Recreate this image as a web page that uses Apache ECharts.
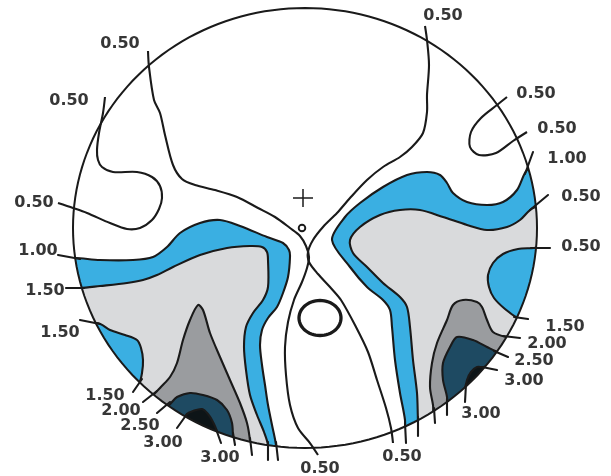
<!DOCTYPE html>
<html><head><meta charset="utf-8">
<script src="https://cdn.jsdelivr.net/npm/echarts/dist/echarts.min.js"></script>
<style>html,body{margin:0;padding:0;background:#fff;}#c{width:611px;height:476px;}</style>
</head><body><div id="c"></div>
<script>
// ---- map units: x to the right, y upward, origin at the head centre ----
// filled level bands (contour polygons)
const blueLeft = [[-265,-30],[-230,-30],[-205,-32],[-172,-32],[-152,-29],[-138,-19],[-125,-5],[-105,5],[-85,8],[-65,2],[-38,-9],[-22,-15],[-16,-22],[-15,-29],[-17,-49],[-22,-65],[-28,-79],[-37,-90],[-43,-102],[-45,-117],[-43,-137],[-40,-157],[-37,-177],[-33,-197],[-29,-217],[-27,-242],[-155,-242],[-265,-172]];
const grayLeft = [[-265,-60],[-225,-60],[-205,-58],[-178,-55],[-162,-52],[-148,-47],[-132,-39],[-105,-27],[-78,-20],[-55,-18],[-43,-19],[-38,-24],[-37,-32],[-37,-59],[-42,-72],[-52,-85],[-59,-99],[-61,-119],[-59,-142],[-55,-167],[-48,-187],[-41,-204],[-37,-217],[-36,-242],[-155,-242],[-265,-172]];
const blueSmallLeft = [[-208,-95],[-195,-102],[-180,-107],[-168,-112],[-164,-120],[-162,-132],[-163,-145],[-166,-155],[-185,-172],[-245,-102]];
const midGrayLeft = [[-155,-172],[-145,-160],[-135,-149],[-128,-135],[-122,-112],[-115,-92],[-107,-77],[-102,-82],[-95,-105],[-85,-129],[-75,-152],[-65,-175],[-58,-195],[-55,-213],[-53,-242],[-165,-212]];
const tealLeft = [[-145,-190],[-133,-174],[-128,-169],[-115,-165],[-102,-167],[-88,-172],[-78,-182],[-73,-195],[-72,-208],[-70,-232],[-135,-212]];
const blackLeft = [[-125,-200],[-118,-186],[-112,-183],[-103,-181],[-97,-186],[-92,-194],[-88,-204],[-85,-227],[-115,-217]];
const blueRight = [[240,68],[222,58],[212,38],[198,26],[182,23],[162,26],[148,35],[142,45],[135,53],[122,56],[102,53],[78,41],[55,25],[40,11],[27,-12],[45,-39],[62,-59],[78,-72],[85,-82],[87,-99],[90,-132],[95,-165],[100,-192],[102,-222],[175,-232],[265,-72]];
const grayRight = [[250,23],[228,20],[215,8],[202,1],[182,-2],[162,3],[138,11],[115,18],[95,18],[75,13],[55,1],[45,-12],[48,-25],[62,-39],[78,-55],[95,-69],[102,-79],[105,-99],[108,-132],[112,-165],[113,-192],[115,-222],[175,-232],[265,-72]];
const blueSmallRight = [[250,-17],[229,-20],[213,-21],[198,-26],[188,-35],[183,-47],[184,-59],[189,-70],[200,-81],[214,-91],[240,-104]];
const midGrayRight = [[220,-112],[201,-109],[188,-104],[182,-92],[177,-79],[172,-74],[158,-72],[148,-77],[142,-92],[132,-115],[127,-135],[125,-159],[128,-177],[131,-202],[185,-202]];
const tealRight = [[210,-127],[193,-124],[182,-119],[168,-112],[152,-109],[145,-119],[138,-135],[138,-152],[142,-169],[144,-197],[195,-172]];
const blackRight = [[190,-134],[179,-139],[172,-139],[166,-144],[162,-152],[160,-164],[163,-187],[200,-162]];
const regionLevel = ['1.00','1.50','1.00','2.00','2.50','3.00','1.00','1.50','1.00','2.00','2.50','3.00'];

// unfilled 0.50 contour lines
const lineA = [[-157,177],[-156,161],[-151,128],[-145,115],[-140,93],[-132,63],[-123,49],[-110,43],[-90,38],[-68,31],[-47,20],[-30,11],[-15,0],[-5,-8],[1,-18],[4,-29],[2,-40],[-3,-54],[-11,-72],[-17,-94],[-20,-119],[-19,-147],[-15,-177],[-7,-200],[5,-215],[13,-227]];
const lineB = [[-200,131],[-202,115],[-206,95],[-208,78],[-207,68],[-203,61],[-192,56],[-168,56],[-153,51],[-145,42],[-143,30],[-146,19],[-153,8],[-165,0],[-178,-1],[-195,5],[-218,15],[-232,20],[-247,25]];
const lineC = [[120,202],[122,188],[124,163],[122,133],[122,116],[118,95],[107,81],[95,71],[78,61],[62,48],[45,30],[32,15],[18,1],[8,-12],[3,-24],[4,-34],[13,-46],[25,-59],[36,-72],[51,-99],[63,-124],[72,-152],[81,-180],[86,-200],[88,-215]];
const lineD = [[202,131],[192,123],[176,110],[166,96],[165,81],[174,73],[191,75],[208,87],[222,96]];

// label leader lines (contour ends continued past the outline)
const leaders = [
 [[-225,-31],[-247,-27]], [[-221,-60],[-239,-60]], [[-205,-96],[-225,-92]],
 [[-163,-151],[-172,-164]], [[-148,-163],[-162,-174]], [[-135,-174],[-148,-185]],
 [[-118,-186],[-128,-200]], [[-89,-201],[-84,-215]], [[-72,-205],[-70,-217]],
 [[-55,-210],[-53,-227]], [[-37,-214],[-37,-232]], [[-29,-214],[-27,-232]],
 [[100,-195],[101,-215]], [[113,-189],[113,-208]], [[129,-180],[130,-195]],
 [[142,-171],[142,-187]], [[161,-156],[160,-174]], [[177,-139],[192,-142]],
 [[189,-123],[203,-129]], [[198,-108],[215,-110]], [[209,-89],[223,-91]],
 [[226,-20],[245,-20]], [[225,18],[243,33]], [[220,54],[228,76]]
];

// contour labels
const labelText = ['0.50','0.50','0.50','1.00','1.50','1.50','1.50','2.00','2.50','3.00','3.00','0.50','0.50','3.00','3.00','2.50','2.00','1.50','0.50','0.50','1.00','0.50','0.50','0.50'];
const labelPos = [[-185,184],[-236,127],[-271,25],[-267,-23],[-260,-63],[-245,-105],[-200,-168],[-184,-183],[-165,-198],[-142,-215],[-85,-230],[15,-241],[97,-229],[176,-186],[219,-153],[229,-133],[242,-116],[260,-99],[276,-19],[276,31],[262,69],[252,99],[231,134],[138,212]];

// reference marks
const plusAt = [-2, 30];
const ringAt = [-3, 0];
const ovalAt = [15, -90];
const headRadius = [232, 220];

// ---------------- styles ----------------
const LINE = '#1a1a1a';
const LW = 2.1;
const SMOOTH = 0.3;
const levelColor = {'1.00':'#3aafe2','1.50':'#d9dadc','2.00':'#9a9c9f','2.50':'#1e4a62','3.00':'#0d1417'};
const regions = [blueLeft, grayLeft, blueSmallLeft, midGrayLeft, tealLeft, blackLeft, blueRight, grayRight, blueSmallRight, midGrayRight, tealRight, blackRight];
const curves = [lineA, lineB, lineC, lineD];

function headPts(api){
  const pts=[];
  for(let k=0;k<=360;k+=2){
    const t=(180+k)*Math.PI/180;
    pts.push(api.coord([headRadius[0]*Math.cos(t), headRadius[1]*Math.sin(t)]));
  }
  return pts;
}

const chart = echarts.init(document.getElementById('c'), null, {renderer:'canvas'});
const base = {type:'custom', coordinateSystem:'cartesian2d', silent:true, clip:false, animation:false};
chart.setOption({
  animation:false,
  backgroundColor:'#ffffff',
  grid:{left:0,right:0,top:0,bottom:0},
  xAxis:{type:'value', min:-305, max:306, show:false},
  yAxis:{type:'value', min:-248, max:228, show:false},
  series:[
    Object.assign({}, base, {z:1, data: regions.map(()=>[0,0]),
      renderItem:(params, api)=>{
        const i=params.dataIndex;
        return {type:'polygon', shape:{points: regions[i].map(p=>api.coord(p)), smooth: SMOOTH},
          style:{fill: levelColor[regionLevel[i]], stroke: LINE, lineWidth: LW, lineJoin:'round'}};
      }}),
    Object.assign({}, base, {z:2, data:[[0,0]],
      renderItem:(params, api)=>{
        const a=api.coord([-400,300]), b=api.coord([400,-300]);
        const ring=headPts(api);
        const cy=ring[0][1];
        const pts=[[a[0],a[1]],[b[0],a[1]],[b[0],b[1]],[a[0],b[1]],[a[0],cy]].concat(ring).concat([[a[0],cy]]);
        return {type:'group', children:[
          {type:'polygon', shape:{points:pts}, style:{fill:'#ffffff', stroke:null}},
          {type:'polygon', shape:{points:ring}, style:{fill:'none', stroke:LINE, lineWidth:2}}
        ]};
      }}),
    Object.assign({}, base, {z:3, data: curves.map(()=>[0,0]),
      renderItem:(params, api)=>({type:'polyline', shape:{points: curves[params.dataIndex].map(p=>api.coord(p)), smooth: SMOOTH},
        style:{fill:'none', stroke: LINE, lineWidth: LW, lineJoin:'round'}})}),
    Object.assign({}, base, {z:3, data: leaders.map(()=>[0,0]),
      renderItem:(params, api)=>({type:'polyline', shape:{points: leaders[params.dataIndex].map(p=>api.coord(p))},
        style:{fill:'none', stroke: LINE, lineWidth: LW, lineCap:'round'}})}),
    Object.assign({}, base, {z:3, data:[[0,0]],
      renderItem:(params, api)=>{
        const p=api.coord(plusAt), r=api.coord(ringAt), o=api.coord(ovalAt);
        const ov=[];
        for(let k=0;k<360;k+=6){const t=k*Math.PI/180; ov.push([o[0]+21*Math.cos(t), o[1]+17.5*Math.sin(t)]);}
        return {type:'group', children:[
          {type:'line', shape:{x1:p[0]-10,y1:p[1],x2:p[0]+10,y2:p[1]}, style:{stroke:LINE,lineWidth:1.5}},
          {type:'line', shape:{x1:p[0],y1:p[1]-9,x2:p[0],y2:p[1]+9}, style:{stroke:LINE,lineWidth:1.5}},
          {type:'circle', shape:{cx:r[0],cy:r[1],r:3.3}, style:{fill:'none',stroke:LINE,lineWidth:1.9}},
          {type:'polygon', shape:{points:ov}, style:{fill:'none',stroke:LINE,lineWidth:3.3}}
        ]};
      }}),
    Object.assign({}, base, {z:4, data: labelPos.map(()=>[0,0]),
      renderItem:(params, api)=>{
        const p=api.coord(labelPos[params.dataIndex]);
        return {type:'text', x:p[0], y:p[1], style:{text: labelText[params.dataIndex], fill:'#363636',
          fontSize:16, fontWeight:'bold', fontFamily:'DejaVu Sans', align:'center', verticalAlign:'middle'}};
      }})
  ]
});
</script></body></html>
